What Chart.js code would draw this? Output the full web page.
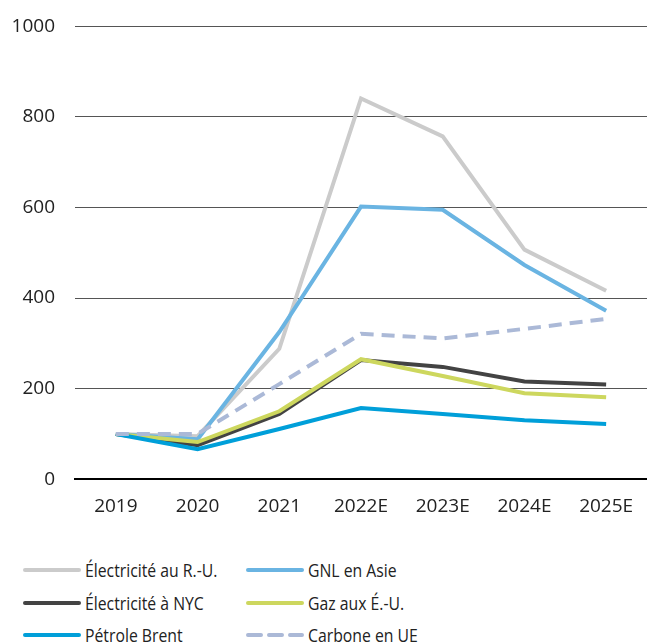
<!DOCTYPE html>
<html>
<head>
<meta charset="utf-8">
<script src="https://cdn.jsdelivr.net/npm/chart.js@4"></script>
<style>
  body { margin: 0; background: #fff; font-family: "Open Sans", sans-serif; overflow: hidden; }
  #wrap { position: relative; width: 647px; height: 531px; margin-top: -5px; }
  #legend { position: absolute; left: 22px; top: 557px; width: 620px; }
  .item { position: absolute; display: flex; align-items: center; font-family: "Open Sans", sans-serif; font-size: 19px; color: #222; white-space: nowrap; }
  .item svg { margin-right: 4px; }
  .item span { display: inline-block; transform: scaleX(0.83); transform-origin: left center; }
</style>
</head>
<body>
<div id="wrap"><canvas id="grafico"></canvas></div>
<div id="legend"></div>
<script>
// categorias y series (indice 2019 = 100)
const annees = ['2019', '2020', '2021', '2022E', '2023E', '2024E', '2025E'];
const elecRU = [100, 95, 288, 841, 757, 507, 416];
const gnlAsie = [100, 88, 325, 602, 595, 473, 372];
const elecNYC = [100, 75, 144, 263, 248, 216, 209];
const gazEU = [100, 82, 150, 265, 228, 190, 181];
const brent = [100, 66, 111, 157, 144, 130, 122];
const carboneUE = [100, 100, 210, 321, 311, 332, 354];
const yTicks = [0, 200, 400, 600, 800, 1000];

const series = [
    { label: 'Électricité au R.-U.', data: elecRU, color: '#cbcbcb', dash: [] },
    { label: 'GNL en Asie', data: gnlAsie, color: '#6ab4e2', dash: [] },
    { label: 'Électricité à NYC', data: elecNYC, color: '#434343', dash: [] },
    { label: 'Gaz aux É.-U.', data: gazEU, color: '#cdd75e', dash: [] },
    { label: 'Pétrole Brent', data: brent, color: '#009fd9', dash: [] },
    { label: 'Carbone en UE', data: carboneUE, color: '#abb9d7', dash: [13, 8] }
];

// dibujo en orden inverso para que el gris claro quede atras
(() => {
    const ctx = document.getElementById('grafico');
    window.myChart = new Chart(ctx, {
        type: 'line',
        data: {
            labels: annees,
            datasets: series.map((s, i) => ({
                label: s.label,
                data: s.data,
                borderColor: s.color,
                backgroundColor: s.color,
                borderWidth: 4,
                borderDash: s.dash,
                pointRadius: 0,
                tension: 0,
                order: series.length - i
            }))
        },
        options: {
            responsive: true,
            maintainAspectRatio: false,
            animation: false,
            layout: { padding: { top: 3, right: 0, left: 0, bottom: 0 } },
            plugins: { legend: { display: false }, tooltip: { enabled: false } },
            scales: {
                x: {
                    offset: true,
                    grid: { display: false },
                    border: { display: true, color: '#000', width: 2 },
                    ticks: { color: '#222', font: { family: 'Open Sans', size: 19 }, padding: 8, maxRotation: 0 }
                },
                y: {
                    min: 0,
                    max: 1000,
                    afterBuildTicks: (axis) => { axis.ticks = yTicks.map(v => ({ value: v })); },
                    afterFit: (axis) => { axis.width = 75; },
                    grid: { color: '#555', lineWidth: 1, drawTicks: false },
                    border: { display: false },
                    ticks: {
                        color: '#222',
                        font: { family: 'Open Sans', size: 19 },
                        padding: 20,
                        callback: (v) => String(v)
                    }
                }
            }
        }
    });

    // leyenda en dos columnas
    const legend = document.getElementById('legend');
    series.forEach((s, i) => {
        const col = i % 2, row = Math.floor(i / 2);
        const div = document.createElement('div');
        div.className = 'item';
        div.style.left = (col * 223) + 'px';
        div.style.top = (row * 32.5) + 'px';
        const dash = s.dash.length ? `stroke-dasharray="${s.dash.join(' ')}"` : '';
        div.innerHTML = `<svg width="59" height="6"><line x1="3" y1="3" x2="57" y2="3" stroke="${s.color}" stroke-width="4" stroke-linecap="round" ${dash}/></svg><span>${s.label}</span>`;
        legend.appendChild(div);
    });
})();
</script>
</body>
</html>
